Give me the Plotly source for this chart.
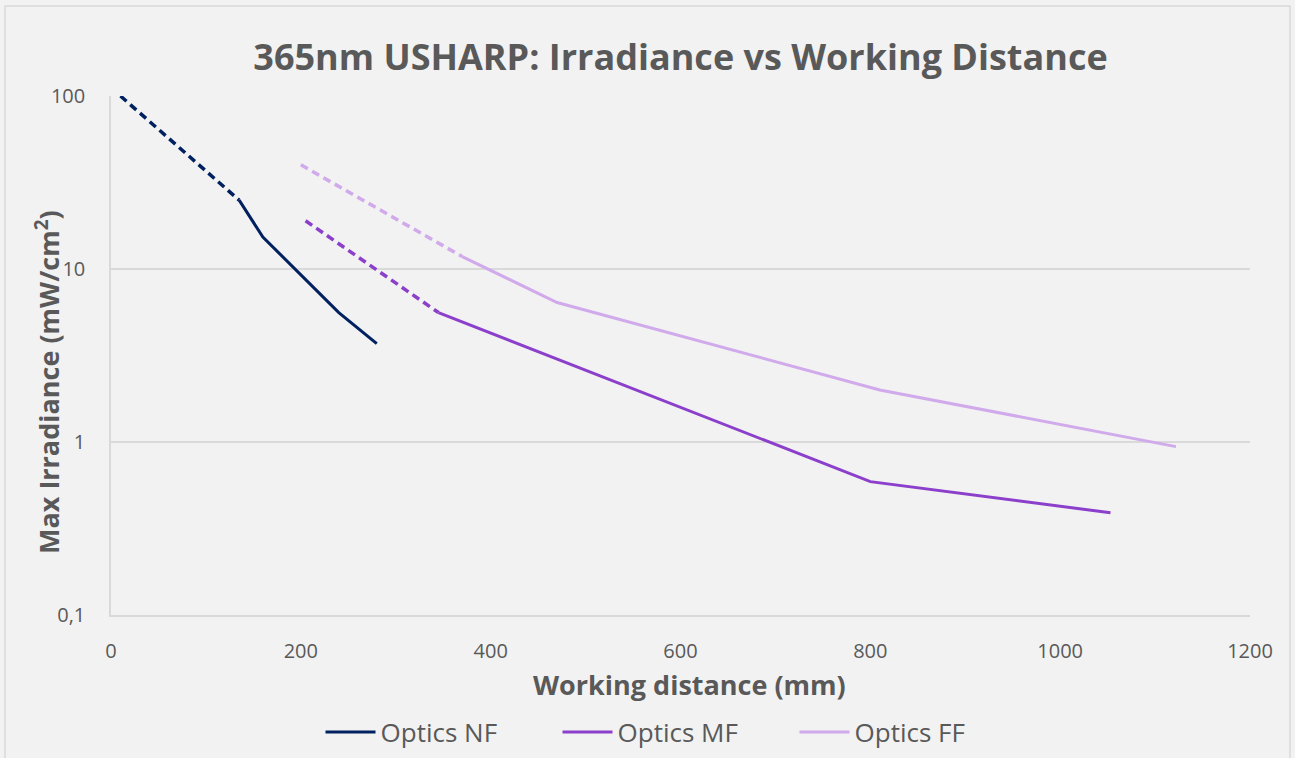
import plotly.graph_objects as go

# Data (working distance mm, irradiance mW/cm2)
nf_dash_x = [10, 135]
nf_dash_y = [100, 25]
nf_x = [135, 160, 240, 280]
nf_y = [25, 15.3, 5.6, 3.7]

mf_dash_x = [205, 345]
mf_dash_y = [19, 5.6]
mf_x = [345, 800, 1053]
mf_y = [5.6, 0.59, 0.39]

ff_dash_x = [200, 370]
ff_dash_y = [40, 11.8]
ff_x = [370, 470, 810, 1122]
ff_y = [11.8, 6.4, 2.0, 0.94]

y_tickvals = [0.1, 1, 10, 100]
y_ticktext = ["0,1", "1", "10", "100"]

C_NF = "#002060"
C_MF = "#8B3FCB"
C_FF = "#D0AAEB"
TXT = "#595959"
DASH = "8px,5px"
FONT = "Open Sans"

fig = go.Figure()
for name, xs, ys, dx, dy, c in [
    ("Optics NF", nf_x, nf_y, nf_dash_x, nf_dash_y, C_NF),
    ("Optics MF", mf_x, mf_y, mf_dash_x, mf_dash_y, C_MF),
    ("Optics FF", ff_x, ff_y, ff_dash_x, ff_dash_y, C_FF),
]:
    fig.add_trace(go.Scatter(x=dx, y=dy, mode="lines", showlegend=False,
                             line=dict(color=c, width=3.5, dash=DASH), hoverinfo="skip"))
    fig.add_trace(go.Scatter(x=xs, y=ys, mode="lines", name=name,
                             line=dict(color=c, width=3)))

W, H = 1295, 758
L, R, T, B = 111, 45, 96, 143
pw, ph = W - L - R, H - T - B

def px(x):
    return (x - L) / pw

def py(y):
    return (H - B - y) / ph

fig.add_shape(type="rect", xref="paper", yref="paper",
              x0=px(5), x1=px(1290), y0=py(790), y1=py(6),
              line=dict(color="#D9D9D9", width=1.5), fillcolor="rgba(0,0,0,0)", layer="below")

fig.add_annotation(text="<b>Working distance (mm)</b>", xref="paper", yref="paper",
                   x=px(689), y=py(684), xanchor="center", yanchor="middle", showarrow=False,
                   font=dict(family=FONT, size=27, color=TXT))
fig.add_annotation(text="<b>Max Irradiance (mW/cm<sup>2</sup>)</b>", xref="paper", yref="paper",
                   x=px(47), y=py(382), xanchor="center", yanchor="middle", showarrow=False,
                   textangle=-90, font=dict(family=FONT, size=27, color=TXT))

fig.update_layout(
    width=W, height=H,
    margin=dict(l=L, r=R, t=T, b=B, autoexpand=False),
    paper_bgcolor="#F2F2F2", plot_bgcolor="#F2F2F2",
    title=dict(text="<b>365nm USHARP: Irradiance vs Working Distance</b>",
               xref="paper", x=0.5, xanchor="center", y=1 - 57 / H, yanchor="middle",
               font=dict(family=FONT, size=36, color=TXT)),
    font=dict(family=FONT, color=TXT),
    legend=dict(orientation="h", x=px(676), xanchor="center", y=py(732), yanchor="middle",
                font=dict(family=FONT, size=26, color=TXT), itemwidth=50,
                entrywidth=172, traceorder="normal"),
    showlegend=True,
)
fig.update_xaxes(range=[0, 1200], dtick=200, showgrid=False, zeroline=False,
                 showline=True, linecolor="#D9D9D9", linewidth=1.5, ticks="",
                 ticklabelstandoff=17, automargin=False,
                 tickfont=dict(family=FONT, size=20, color=TXT))
fig.update_yaxes(type="log", range=[-1, 2], tickvals=y_tickvals, ticktext=y_ticktext,
                 showgrid=True, gridcolor="#D9D9D9", gridwidth=1.5, zeroline=False,
                 showline=True, linecolor="#D9D9D9", linewidth=1.5, ticks="",
                 ticklabelstandoff=20, automargin=False,
                 tickfont=dict(family=FONT, size=20, color=TXT))

fig.write_html("out.html", config={"displayModeBar": False},
               post_script="document.body.style.margin='0';document.body.style.overflow='hidden';"
                           "document.documentElement.style.overflow='hidden';")
